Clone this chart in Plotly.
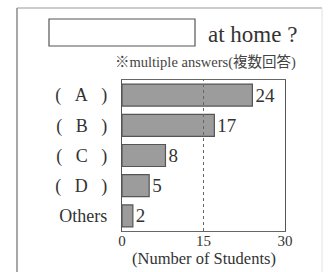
import plotly.graph_objects as go

NB = "\u00a0" * 3
categories = [f"({NB}A{NB})", f"({NB}B{NB})", f"({NB}C{NB})", f"({NB}D{NB})", "Others"]
values = [24, 17, 8, 5, 2]
x_ticks = [0, 15, 30]
title_text = "at home ?"
subtitle_text = "※multiple answers(複数回答)"
x_title = "(Number of Students)"

W, H = 329, 272
L, R, T, B = 122, 44, 80, 41
PW, PH = W - L - R, H - T - B

def px(x):
    return (x - L) / PW

def py(y):
    return (H - B - y) / PH

SERIF = "Liberation Serif, Noto Sans CJK JP, serif"

fig = go.Figure(go.Bar(
    x=values, y=categories, orientation="h",
    marker=dict(color="#9c9c9c", line=dict(color="#555555", width=1.2)),
    text=[str(v) for v in values], textposition="outside",
    textfont=dict(family=SERIF, size=19, color="#333333"),
    cliponaxis=False, width=0.73,
))

shapes = [
    dict(type="line", xref="paper", yref="paper", x0=px(17), x1=px(17), y0=py(8), y1=py(290),
         line=dict(color="#8a8a8a", width=1.5)),
    dict(type="line", xref="paper", yref="paper", x0=px(17), x1=px(322), y0=py(8), y1=py(8),
         line=dict(color="#9a9a9a", width=1.2)),
    dict(type="line", xref="paper", yref="paper", x0=px(322), x1=px(322), y0=py(8), y1=py(290),
         line=dict(color="#e2e2e2", width=1)),
    dict(type="rect", xref="paper", yref="paper", x0=px(49), x1=px(195), y0=py(46), y1=py(19),
         line=dict(color="#555555", width=1.2), fillcolor="white"),
    dict(type="line", xref="x", yref="paper", x0=15, x1=15, y0=0, y1=1,
         line=dict(color="#666666", width=1, dash="dot")),
]

annotations = [
    dict(text=title_text, xref="paper", yref="paper", x=px(206), y=py(34), xanchor="left",
         yanchor="middle", showarrow=False, font=dict(family=SERIF, size=23, color="#333333")),
    dict(text=subtitle_text, xref="paper", yref="paper", x=px(298), y=py(62), xanchor="right",
         yanchor="middle", showarrow=False, font=dict(family=SERIF, size=14.5, color="#444444")),
    dict(text=x_title, xref="paper", yref="paper", x=px(204), y=py(258), xanchor="center",
         yanchor="middle", showarrow=False, font=dict(family=SERIF, size=16.5, color="#333333")),
]

fig.update_layout(
    width=W, height=H,
    margin=dict(l=L, r=R, t=T, b=B),
    paper_bgcolor="white", plot_bgcolor="white",
    showlegend=False,
    shapes=shapes, annotations=annotations,
    xaxis=dict(range=[0, 30], tickvals=x_ticks, showgrid=False, zeroline=False,
               showline=True, mirror=True, linecolor="#666666", linewidth=1,
               tickfont=dict(family=SERIF, size=15, color="#333333"), ticks="", ticklabelstandoff=-4,
               automargin=False),
    yaxis=dict(autorange="reversed", showgrid=False, zeroline=False,
               showline=True, mirror=True, linecolor="#555555", linewidth=1.2,
               tickfont=dict(family=SERIF, size=18, color="#333333"), ticks="", ticklabelstandoff=10,
               automargin=False),
)

fig.write_html("out.html", config={"displayModeBar": False},
               post_script="document.body.style.margin='0';document.body.style.padding='0';")
